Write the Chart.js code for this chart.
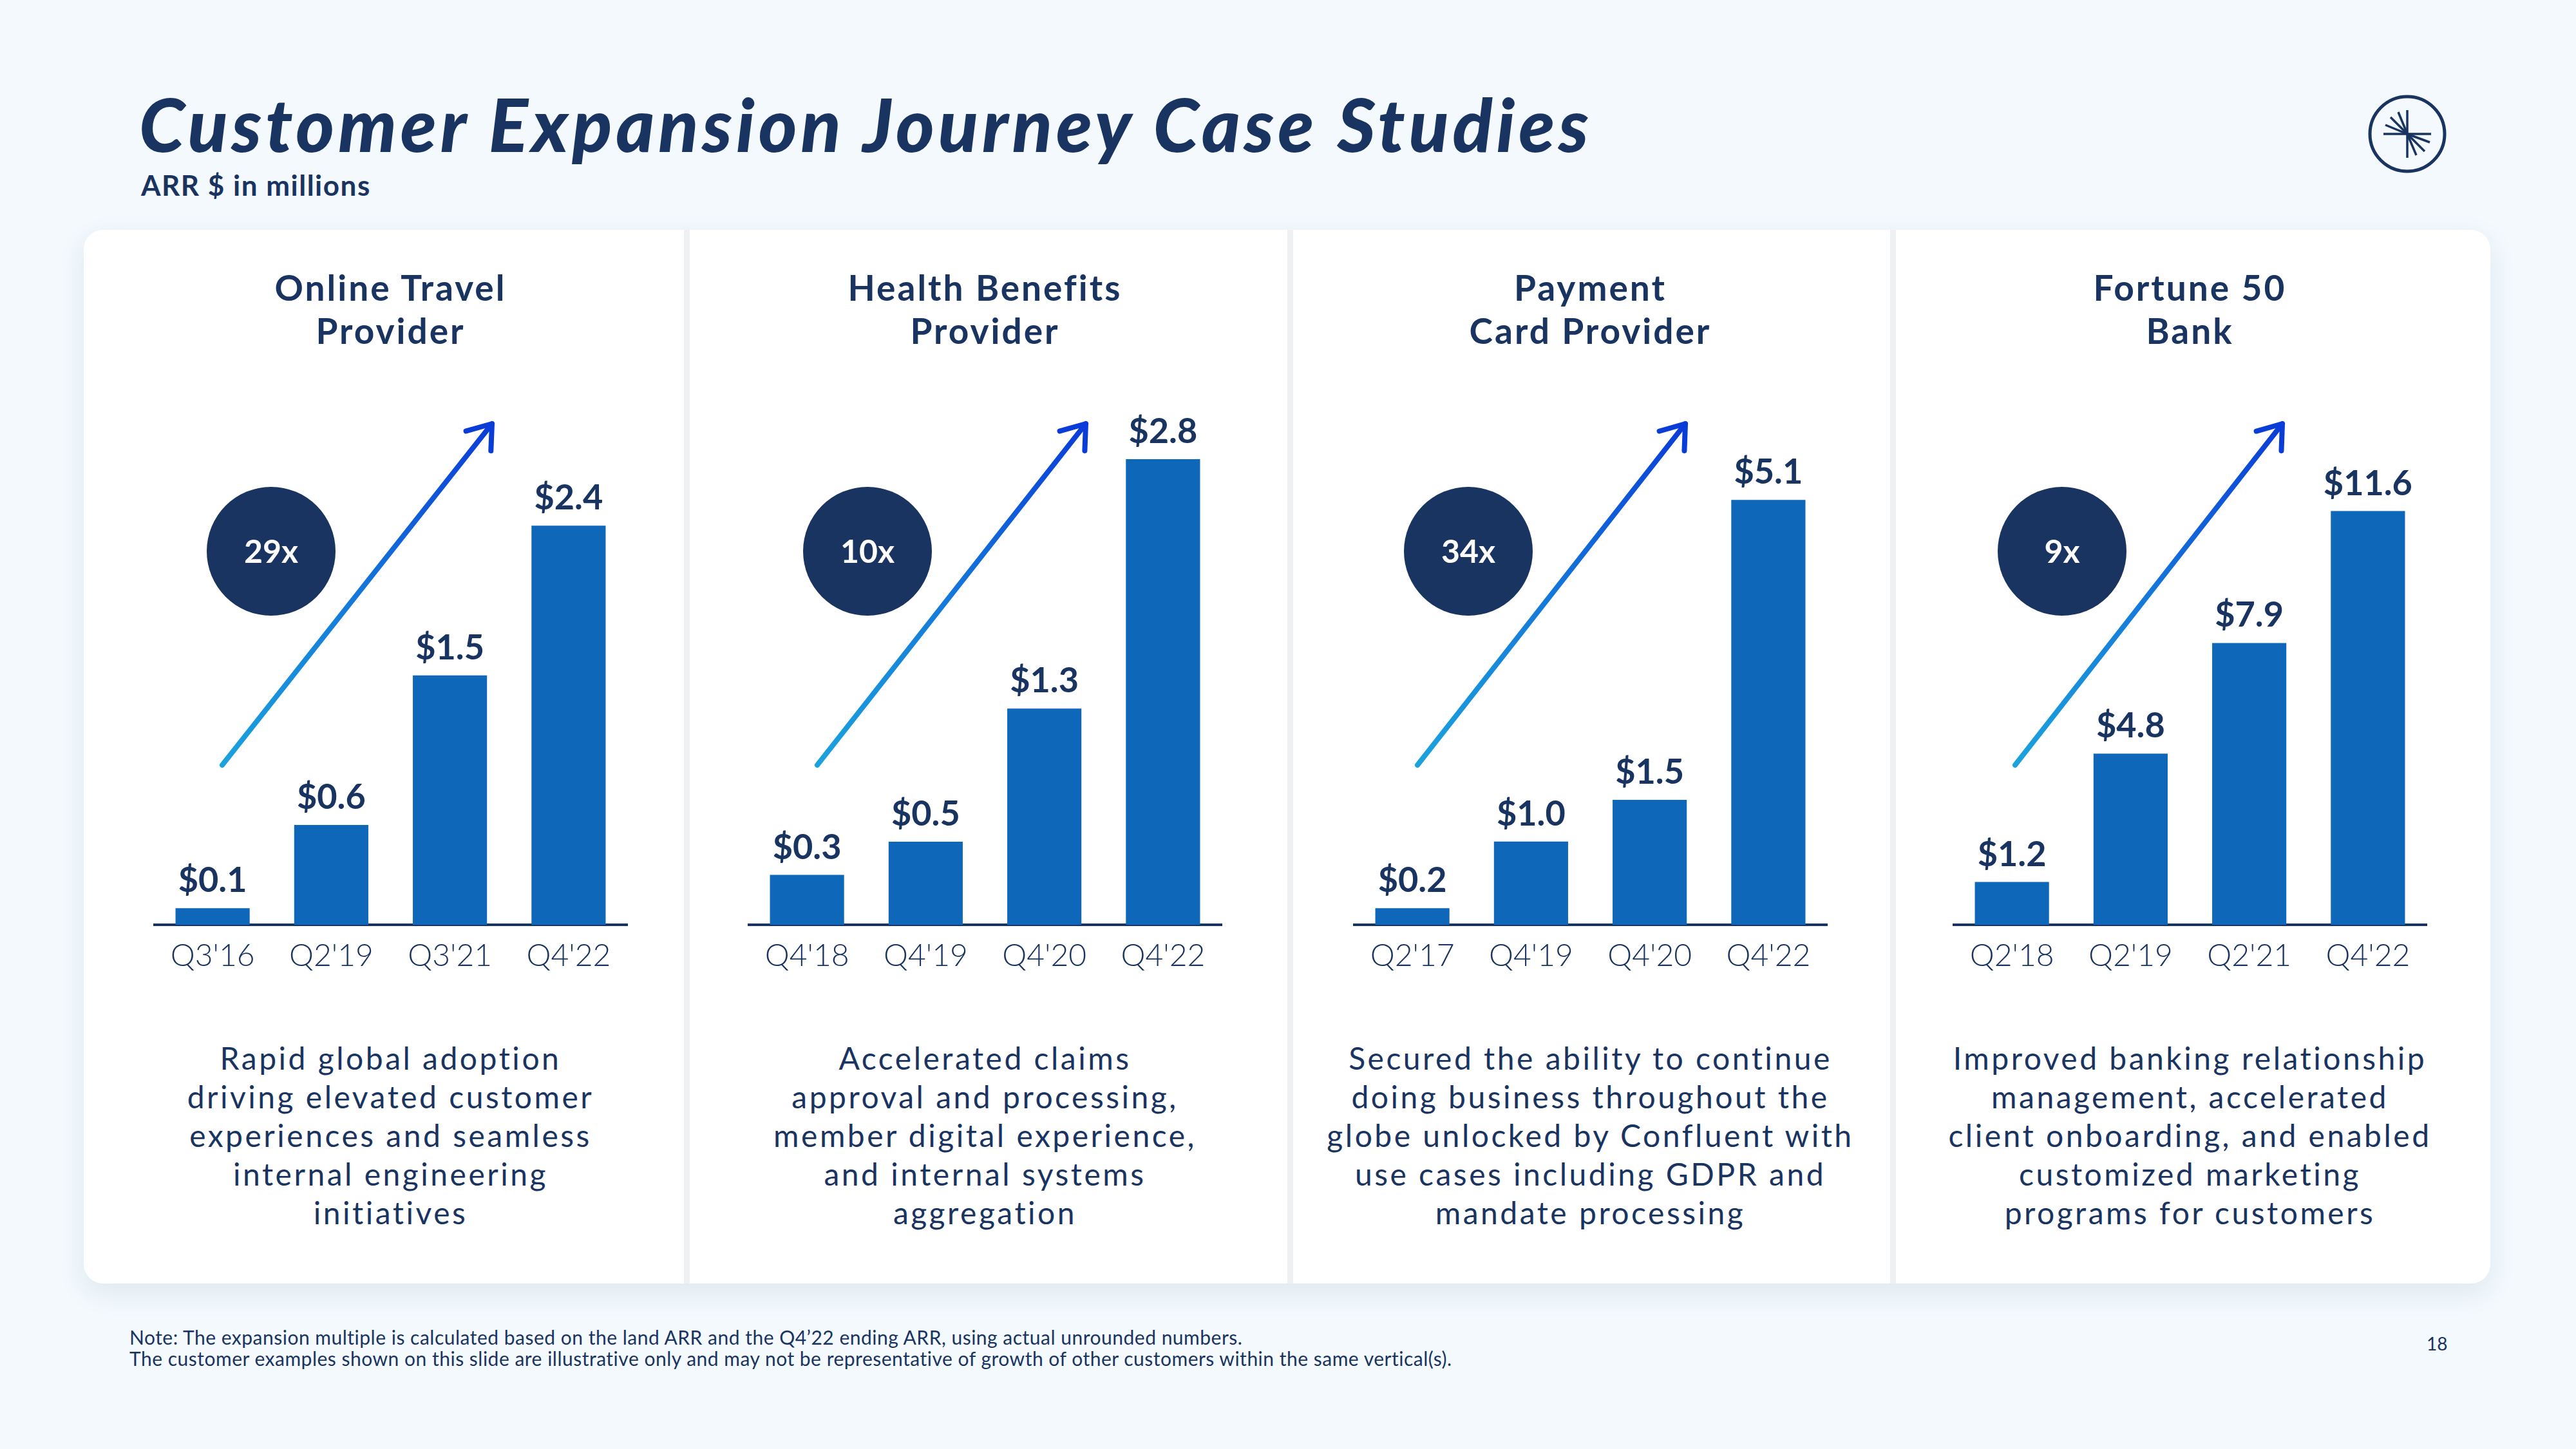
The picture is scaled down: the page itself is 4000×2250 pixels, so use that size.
<!DOCTYPE html>
<html><head><meta charset="utf-8">
<script src="https://cdn.jsdelivr.net/npm/chart.js@4.4.1/dist/chart.umd.min.js"></script>
<style>
html,body{margin:0;padding:0;}
body{width:4000px;height:2250px;background:#F3F9FD;position:relative;overflow:hidden;font-family:Lato,"Open Sans",sans-serif;color:#1A3461;}
.abs{position:absolute;white-space:nowrap;}
#title{left:216px;top:124px;font-size:114px;font-weight:900;font-style:italic;line-height:1.2;letter-spacing:6px;}
#subtitle{left:219px;top:261px;font-size:44px;font-weight:700;line-height:1.2;letter-spacing:1.5px;}
#card{left:130px;top:357px;width:3737px;height:1636px;background:#fff;border-radius:30px;box-shadow:0 14px 40px rgba(40,90,130,0.10);}
.divider{top:357px;height:1636px;width:9px;background:#EEF0F2;}
.ptitle{width:900px;text-align:center;font-size:55px;font-weight:700;line-height:67px;top:413px;letter-spacing:3px;}
.pdesc{width:900px;text-align:center;font-size:48px;font-weight:400;line-height:60px;top:1613px;letter-spacing:3.5px;}
#note{left:201px;top:2060px;font-size:30px;line-height:33px;letter-spacing:0.5px;}
#pagenum{left:3768px;top:2070px;font-size:28px;line-height:33px;}
canvas{position:absolute;}
</style></head>
<body>
<div id="title" class="abs">Customer Expansion Journey Case Studies</div>
<div id="subtitle" class="abs">ARR $ in millions</div>
<svg class="abs" style="left:3668px;top:138px" width="140" height="140" viewBox="-70 -70 140 140">
  <circle cx="0" cy="0" r="58" fill="none" stroke="#1A3461" stroke-width="5"/>
  <g stroke="#1A3461" stroke-width="3.5" stroke-linecap="butt">
    <line x1="0" y1="-37" x2="0" y2="37"/>
    <line x1="-37" y1="0" x2="37" y2="0"/>
    <line x1="0" y1="0" x2="-34" y2="-14"/>
    <line x1="0" y1="0" x2="-26" y2="-26"/>
    <line x1="0" y1="0" x2="-14" y2="-34"/>
    <line x1="0" y1="0" x2="35" y2="13"/>
    <line x1="0" y1="0" x2="27" y2="27"/>
    <line x1="0" y1="0" x2="14" y2="33"/>
  </g>
</svg>
<div id="card" class="abs"></div>
<div class="abs divider" style="left:1062px"></div>
<div class="abs divider" style="left:1999px"></div>
<div class="abs divider" style="left:2935px"></div>
<div id="note" class="abs">Note: The expansion multiple is calculated based on the land ARR and the Q4’22 ending ARR, using actual unrounded numbers.<br>The customer examples shown on this slide are illustrative only and may not be representative of growth of other customers within the same vertical(s).</div>
<div id="pagenum" class="abs">18</div>
<script>
// ---------- data ----------
const panelTitles = [["Online Travel","Provider"],["Health Benefits","Provider"],["Payment","Card Provider"],["Fortune 50","Bank"]];
const quartersOnlineTravel = ["Q3'16","Q2'19","Q3'21","Q4'22"];
const quartersHealth = ["Q4'18","Q4'19","Q4'20","Q4'22"];
const quartersPayment = ["Q2'17","Q4'19","Q4'20","Q4'22"];
const quartersBank = ["Q2'18","Q2'19","Q2'21","Q4'22"];
const arrOnlineTravel = [0.1, 0.6, 1.5, 2.4];
const arrHealth = [0.3, 0.5, 1.3, 2.8];
const arrPayment = [0.2, 1.0, 1.5, 5.1];
const arrBank = [1.2, 4.8, 7.9, 11.6];
const multiples = ["29x","10x","34x","9x"];
const descriptions = [
  ["Rapid global adoption","driving elevated customer","experiences and seamless","internal engineering","initiatives"],
  ["Accelerated claims","approval and processing,","member digital experience,","and internal systems","aggregation"],
  ["Secured the ability to continue","doing business throughout the","globe unlocked by Confluent with","use cases including GDPR and","mandate processing"],
  ["Improved banking relationship","management, accelerated","client onboarding, and enabled","customized marketing","programs for customers"]
];
const quarters = [quartersOnlineTravel, quartersHealth, quartersPayment, quartersBank];
const values = [arrOnlineTravel, arrHealth, arrPayment, arrBank];

// ---------- layout / style ----------
const yMax = [2.85, 2.85, 5.69, 13.29];
const layout = [
  {areaLeft:238, bubbleX:183, arrowX0:107, arrowX1:526},
  {areaLeft:1161, bubbleX:186, arrowX0:108, arrowX1:525},
  {areaLeft:2101, bubbleX:179, arrowX0:100, arrowX1:516},
  {areaLeft:3032, bubbleX:170, arrowX0:97, arrowX1:512}
];
const AREA_W = 737, CANVAS_TOP = 560, CANVAS_H = 1000;
const NAVY = '#1A3461', BAR = '#0F67B9';

const overlayPlugin = {
  id:'overlay',
  afterDraw(chart, args, opts){
    const ctx = chart.ctx, ca = chart.chartArea;
    const b = ca.bottom;
    const meta = chart.getDatasetMeta(0);
    const data = chart.data.datasets[0].data;
    ctx.save();
    ctx.fillStyle = NAVY;
    ctx.font = '700 54px Lato, sans-serif';
    ctx.textAlign = 'center';
    ctx.textBaseline = 'alphabetic';
    meta.data.forEach((el,i)=>{ ctx.fillText('$' + data[i].toFixed(1), el.x, el.y - 25); });
    const bx = ca.left + opts.bubbleX, by = b - 580;
    ctx.beginPath(); ctx.arc(bx, by, 100, 0, Math.PI*2); ctx.fillStyle = NAVY; ctx.fill();
    ctx.fillStyle = '#fff'; ctx.font = '700 50px Lato, sans-serif'; ctx.textBaseline = 'middle';
    ctx.fillText(opts.multiple, bx, by + 2);
    const x0 = ca.left + opts.arrowX0, y0 = b - 248, x1 = ca.left + opts.arrowX1, y1 = b - 778;
    const g = ctx.createLinearGradient(x0, y0, x1, y1);
    g.addColorStop(0, '#1BA3DD'); g.addColorStop(0.5, '#1478DA'); g.addColorStop(1, '#0A3CD8');
    ctx.strokeStyle = g; ctx.lineWidth = 8; ctx.lineCap = 'round'; ctx.lineJoin = 'round';
    ctx.beginPath(); ctx.moveTo(x0, y0); ctx.lineTo(x1, y1); ctx.stroke();
    const ang = Math.atan2(y0 - y1, x0 - x1), L = 42, spread = 36*Math.PI/180;
    ctx.strokeStyle = '#0A3CD8';
    ctx.beginPath();
    ctx.moveTo(x1 + L*Math.cos(ang+spread), y1 + L*Math.sin(ang+spread));
    ctx.lineTo(x1, y1);
    ctx.lineTo(x1 + L*Math.cos(ang-spread), y1 + L*Math.sin(ang-spread));
    ctx.stroke();
    ctx.restore();
  }
};

layout.forEach((lay, i)=>{
  const cx = lay.areaLeft + AREA_W/2;
  const t = document.createElement('div');
  t.className = 'abs ptitle'; t.style.left = (cx - 450) + 'px';
  t.innerHTML = panelTitles[i].join('<br>');
  document.body.appendChild(t);
  const d = document.createElement('div');
  d.className = 'abs pdesc'; d.style.left = (cx - 450) + 'px';
  d.innerHTML = descriptions[i].join('<br>');
  document.body.appendChild(d);

  const c = document.createElement('canvas');
  c.width = AREA_W; c.height = CANVAS_H;
  c.style.left = lay.areaLeft + 'px'; c.style.top = CANVAS_TOP + 'px';
  c.style.width = AREA_W + 'px'; c.style.height = CANVAS_H + 'px';
  document.body.appendChild(c);

  new Chart(c.getContext('2d'), {
    type:'bar',
    data:{ labels: quarters[i], datasets:[{ data: values[i], backgroundColor: BAR, borderWidth:0, barPercentage:0.625, categoryPercentage:1.0 }] },
    options:{
      responsive:false, devicePixelRatio:1, animation:false,
      layout:{ padding:{ top:140, bottom:46, left:0, right:0 } },
      plugins:{ legend:{display:false}, tooltip:{enabled:false},
        overlay:{ bubbleX: lay.bubbleX, arrowX0: lay.arrowX0, arrowX1: lay.arrowX1, multiple: multiples[i] } },
      scales:{
        x:{ grid:{display:false, drawTicks:false, tickLength:0},
            border:{display:true, color:NAVY, width:4},
            ticks:{ color:NAVY, font:{family:'Lato', size:48, weight:300}, padding:20, maxRotation:0, autoSkip:false },
            afterFit(s){ s.height = 78; } },
        y:{ display:false, min:0, max:yMax[i] }
      }
    },
    plugins:[overlayPlugin]
  });
});
</script>
</body></html>
